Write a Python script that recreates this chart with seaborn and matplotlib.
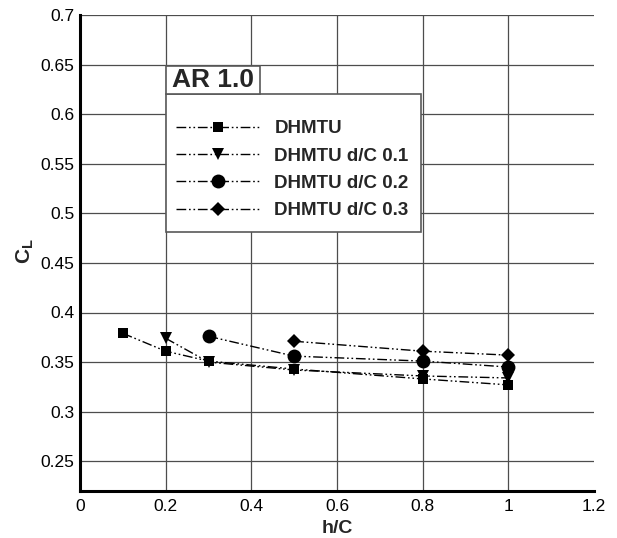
import numpy as np
import pandas as pd
import matplotlib
matplotlib.use("Agg")
import matplotlib.pyplot as plt
import seaborn as sns
from matplotlib.ticker import MultipleLocator, FormatStrFormatter
from matplotlib.patches import Rectangle
from matplotlib.lines import Line2D

# Lift coefficient versus ground clearance, AR 1.0
series_names = ["DHMTU", "DHMTU d/C 0.1", "DHMTU d/C 0.2", "DHMTU d/C 0.3"]

hc_dhmtu = [0.1, 0.2, 0.3, 0.5, 0.8, 1.0]
cl_dhmtu = [0.379, 0.361, 0.351, 0.343, 0.333, 0.327]

hc_d01 = [0.2, 0.3, 0.5, 0.8, 1.0]
cl_d01 = [0.374, 0.350, 0.342, 0.336, 0.334]

hc_d02 = [0.3, 0.5, 0.8, 1.0]
cl_d02 = [0.376, 0.356, 0.351, 0.345]

hc_d03 = [0.5, 0.8, 1.0]
cl_d03 = [0.371, 0.361, 0.357]

x_ticks = [0, 0.2, 0.4, 0.6, 0.8, 1.0, 1.2]
y_ticks = [0.25, 0.3, 0.35, 0.4, 0.45, 0.5, 0.55, 0.6, 0.65, 0.7]

frames = []
for name, xs, ys in zip(series_names,
                        [hc_dhmtu, hc_d01, hc_d02, hc_d03],
                        [cl_dhmtu, cl_d01, cl_d02, cl_d03]):
    frames.append(pd.DataFrame({"h/C": xs, "CL": ys, "case": name}))
df = pd.concat(frames, ignore_index=True)

sns.set_style("white")
plt.rcParams["font.family"] = ["Liberation Sans", "DejaVu Sans"]
plt.rcParams["mathtext.fontset"] = "custom"
plt.rcParams["mathtext.rm"] = "Liberation Sans"
plt.rcParams["mathtext.bf"] = "Liberation Sans:bold"

W, H = 617, 538
fig = plt.figure(figsize=(W / 100, H / 100), dpi=100)
ax_l, ax_r, ax_t, ax_b = 80, 594, 15, 491
ax = fig.add_axes([ax_l / W, 1 - ax_b / H, (ax_r - ax_l) / W, (ax_b - ax_t) / H])

dash = (7, 2, 1.2, 2, 1.2, 2)
marker_map = dict(zip(series_names, ["s", "v", "o", "D"]))
dash_map = {n: dash for n in series_names}
palette = {n: "black" for n in series_names}
msize = dict(zip(series_names, [7.5, 8.5, 10, 7.5]))

sns.lineplot(data=df, x="h/C", y="CL", hue="case", style="case",
             hue_order=series_names, style_order=series_names,
             markers=marker_map, dashes=dash_map, palette=palette,
             linewidth=1.0, markeredgewidth=0, legend=False, ax=ax,
             sort=False)

# marker sizes and draw order (first case on top)
for i, line in enumerate(ax.lines):
    name = series_names[i]
    line.set_markersize(msize[name])
    line.set_zorder(10 - i)

ax.set_xlim(0, 1.2)
ax.set_ylim(0.22, 0.7)
ax.set_xticks(x_ticks)
ax.set_yticks(y_ticks)
ax.xaxis.set_minor_locator(MultipleLocator(0.05))
ax.yaxis.set_minor_locator(MultipleLocator(0.01))
ax.xaxis.set_major_formatter(FormatStrFormatter("%g"))
ax.yaxis.set_major_formatter(FormatStrFormatter("%g"))

ax.tick_params(axis="both", which="major", direction="in", length=9,
               width=2, labelsize=12.5, colors="black")
ax.tick_params(axis="x", which="major", pad=6)
ax.tick_params(axis="y", which="major", pad=4)
ax.tick_params(axis="both", which="minor", direction="in", length=4.5,
               width=1, colors="black")
ax.tick_params(top=False, right=False)

for side in ["top", "right"]:
    ax.spines[side].set_visible(False)
for side in ["left", "bottom"]:
    ax.spines[side].set_linewidth(2.2)
    ax.spines[side].set_color("black")

ax.grid(True, which="major", color="0.3", linewidth=0.9)
ax.set_axisbelow(True)
ax.get_xgridlines()[-1].set_visible(False)

ax.set_xlabel("h/C", fontsize=14, fontweight="bold")
ax.xaxis.set_label_coords(0.5, -(520 - ax_b) / (ax_b - ax_t))
ax.set_ylabel(r"$\mathbf{C_L}$", fontsize=15)
ax.yaxis.set_label_coords(-(ax_l - 36) / (ax_r - ax_l), (ax_b - 251) / (ax_b - ax_t))

# legend frame and title box
fig.patches.append(Rectangle((166 / W, 1 - 232 / H), 255 / W, 138 / H,
                             transform=fig.transFigure, facecolor="white",
                             edgecolor="0.35", linewidth=1.2, zorder=20))
fig.patches.append(Rectangle((166 / W, 1 - 94 / H), 94 / W, 28 / H,
                             transform=fig.transFigure, facecolor="white",
                             edgecolor="0.35", linewidth=1.2, zorder=20))
fig.text(213 / W, 1 - 80 / H, "AR 1.0", fontsize=19, fontweight="bold",
         ha="center", va="center", zorder=21)

handles = [Line2D([], [], color="black", linewidth=1.0, dashes=dash,
                  marker=marker_map[n], markersize=msize[n], markeredgewidth=0)
           for n in series_names]
leg = fig.legend(handles, series_names, loc="upper left",
                 bbox_to_anchor=(176 / W, 1 - 120 / H),
                 frameon=False, numpoints=1, handlelength=4.5,
                 handletextpad=0.75, labelspacing=0.55, borderaxespad=0,
                 borderpad=0, prop={"family": "Liberation Sans",
                                    "weight": "bold", "size": 13.5})
leg.set_zorder(22)

fig.savefig("out.png", dpi=100)
